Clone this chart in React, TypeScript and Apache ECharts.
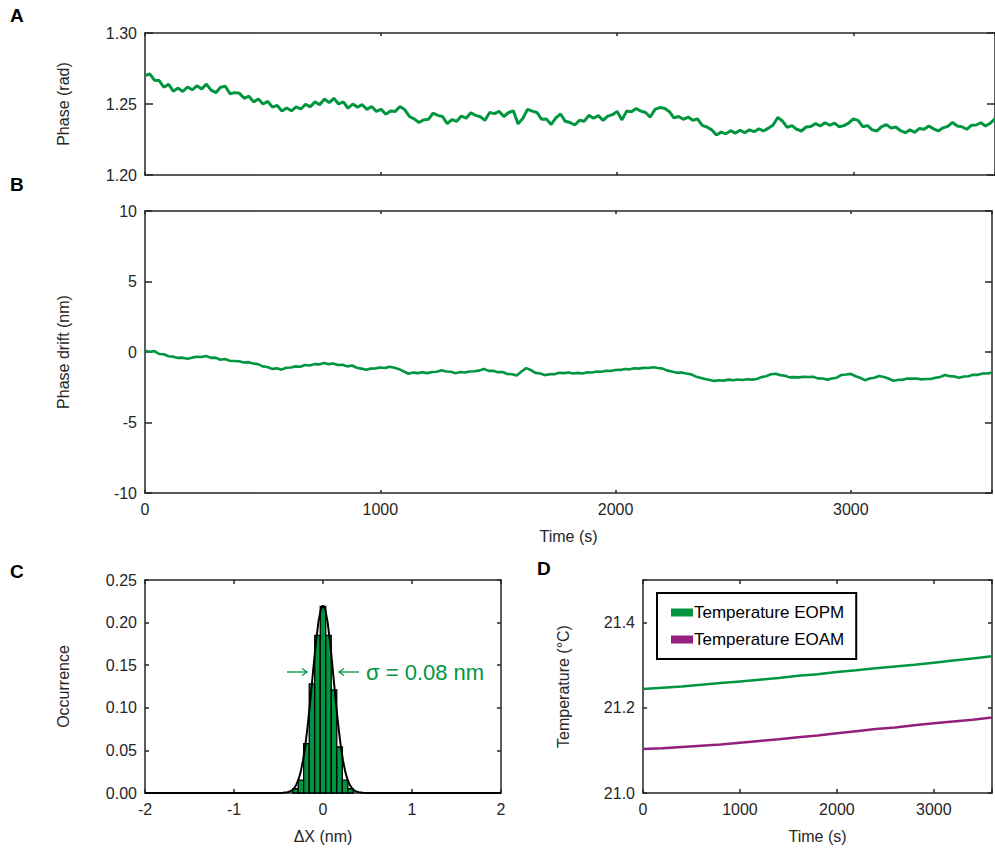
import React, { useEffect, useRef } from "react";
import * as echarts from "echarts";

// ---------------- DATA ----------------
const SAMPLE_STEP_S = 20; // seconds between samples in panels A and B

// Panel A: phase (rad), one value every 20 s from 0 to 3600 s
const phaseRad: number[] = [
  1.2700, 1.2712, 1.2668, 1.2665, 1.2618, 1.2638, 1.2590, 1.2612, 1.2588, 1.2620,
  1.2600, 1.2628, 1.2605, 1.2640, 1.2598, 1.2580, 1.2618, 1.2625, 1.2572, 1.2580,
  1.2575, 1.2540, 1.2555, 1.2515, 1.2535, 1.2500, 1.2518, 1.2478, 1.2490, 1.2450,
  1.2472, 1.2452, 1.2480, 1.2465, 1.2498, 1.2480, 1.2515, 1.2495, 1.2535, 1.2510,
  1.2540, 1.2500, 1.2515, 1.2470, 1.2500, 1.2478, 1.2495, 1.2462, 1.2482, 1.2448,
  1.2462, 1.2428, 1.2450, 1.2448, 1.2482, 1.2460, 1.2412, 1.2395, 1.2370, 1.2388,
  1.2392, 1.2435, 1.2420, 1.2412, 1.2362, 1.2390, 1.2378, 1.2415, 1.2400, 1.2438,
  1.2420, 1.2410, 1.2385, 1.2440, 1.2432, 1.2448, 1.2412, 1.2440, 1.2452, 1.2360,
  1.2398, 1.2462, 1.2450, 1.2440, 1.2392, 1.2395, 1.2355, 1.2402, 1.2430, 1.2378,
  1.2370, 1.2352, 1.2385, 1.2378, 1.2420, 1.2400, 1.2418, 1.2385, 1.2415, 1.2425,
  1.2448, 1.2388, 1.2450, 1.2445, 1.2468, 1.2450, 1.2440, 1.2408, 1.2462, 1.2475,
  1.2470, 1.2448, 1.2402, 1.2412, 1.2392, 1.2408, 1.2385, 1.2395, 1.2350, 1.2338,
  1.2318, 1.2282, 1.2302, 1.2290, 1.2312, 1.2295, 1.2315, 1.2298, 1.2318, 1.2305,
  1.2325, 1.2310, 1.2330, 1.2352, 1.2405, 1.2380, 1.2335, 1.2348, 1.2322, 1.2310,
  1.2338, 1.2342, 1.2362, 1.2345, 1.2368, 1.2350, 1.2365, 1.2340, 1.2348, 1.2365,
  1.2395, 1.2385, 1.2340, 1.2348, 1.2318, 1.2310, 1.2340, 1.2355, 1.2330, 1.2338,
  1.2312, 1.2298, 1.2318, 1.2300, 1.2328, 1.2322, 1.2345, 1.2325, 1.2310, 1.2332,
  1.2342, 1.2370, 1.2345, 1.2340, 1.2322, 1.2350, 1.2352, 1.2368, 1.2345, 1.2365,
  1.2395,
];

// Panel B: phase drift (nm), one value every 20 s from 0 to 3600 s
const phaseDriftNm: number[] = [
  0.08, 0.02, 0.06, -0.14, -0.16, -0.30, -0.33, -0.42, -0.40, -0.48,
  -0.40, -0.34, -0.36, -0.28, -0.42, -0.40, -0.55, -0.50, -0.62, -0.64,
  -0.66, -0.74, -0.72, -0.82, -0.86, -1.02, -1.06, -1.20, -1.16, -1.25,
  -1.12, -1.10, -1.02, -1.05, -0.92, -0.96, -0.86, -0.88, -0.78, -0.86,
  -0.82, -0.92, -0.90, -1.02, -0.96, -1.12, -1.18, -1.26, -1.18, -1.16,
  -1.10, -1.14, -1.05, -1.12, -1.22, -1.38, -1.54, -1.46, -1.50, -1.44,
  -1.50, -1.42, -1.40, -1.30, -1.38, -1.40, -1.50, -1.42, -1.45, -1.38,
  -1.36, -1.32, -1.20, -1.34, -1.33, -1.43, -1.42, -1.56, -1.58, -1.66,
  -1.38, -1.14, -1.28, -1.48, -1.52, -1.64, -1.58, -1.57, -1.48, -1.50,
  -1.46, -1.52, -1.48, -1.53, -1.44, -1.45, -1.38, -1.40, -1.33, -1.35,
  -1.28, -1.27, -1.20, -1.23, -1.15, -1.18, -1.12, -1.14, -1.08, -1.14,
  -1.18, -1.32, -1.38, -1.47, -1.45, -1.52, -1.58, -1.73, -1.83, -1.92,
  -1.98, -2.05, -2.00, -2.03, -1.96, -2.00, -1.95, -1.99, -1.93, -1.96,
  -1.92, -1.78, -1.72, -1.58, -1.55, -1.64, -1.68, -1.80, -1.78, -1.80,
  -1.75, -1.77, -1.76, -1.87, -1.88, -1.96, -1.88, -1.82, -1.63, -1.60,
  -1.55, -1.72, -1.83, -2.00, -1.88, -1.82, -1.70, -1.77, -1.88, -2.04,
  -1.98, -1.97, -1.88, -1.89, -1.88, -1.94, -1.92, -1.92, -1.83, -1.77,
  -1.63, -1.72, -1.73, -1.82, -1.74, -1.72, -1.61, -1.62, -1.53, -1.52,
  -1.45,
];

// Panel C: histogram of ΔX (nm)
const HIST_BIN_WIDTH = 0.062;
const histCenters: number[] = [-0.31, -0.248, -0.186, -0.124, -0.062, 0, 0.062, 0.124, 0.186, 0.248, 0.31];
const histOccurrence: number[] = [0.005, 0.015, 0.058, 0.128, 0.185, 0.219, 0.185, 0.121, 0.054, 0.015, 0.005];

// Panel C: Gaussian fit curve
const fitX: number[] = [
  -2, -0.5, -0.45, -0.4, -0.375, -0.35, -0.325, -0.3, -0.275, -0.25, -0.225, -0.2, -0.175, -0.15,
  -0.125, -0.1, -0.075, -0.05, -0.025, 0, 0.025, 0.05, 0.075, 0.1, 0.125, 0.15, 0.175, 0.2,
  0.225, 0.25, 0.275, 0.3, 0.325, 0.35, 0.375, 0.4, 0.45, 0.5, 2,
];
const fitY: number[] = [
  0, 0, 0.0002, 0.0008, 0.0017, 0.0031, 0.0056, 0.0097, 0.0159, 0.0251, 0.0379, 0.0549, 0.076, 0.1007,
  0.1279, 0.1555, 0.181, 0.2017, 0.2153, 0.22, 0.2153, 0.2017, 0.181, 0.1555, 0.1279, 0.1007, 0.076, 0.0549,
  0.0379, 0.0251, 0.0159, 0.0097, 0.0056, 0.0031, 0.0017, 0.0008, 0.0002, 0, 0,
];

// Panel D: temperatures (°C)
const tempTime: number[] = [0, 200, 400, 600, 800, 1000, 1200, 1400, 1600, 1800, 2000, 2200, 2400, 2600, 2800, 3000, 3200, 3400, 3600];
const tempEOPM: number[] = [21.244, 21.247, 21.25, 21.254, 21.258, 21.262, 21.266, 21.27, 21.275, 21.279, 21.284, 21.288, 21.293, 21.297, 21.301, 21.306, 21.311, 21.316, 21.321];
const tempEOAM: number[] = [21.103, 21.105, 21.108, 21.111, 21.114, 21.118, 21.122, 21.126, 21.131, 21.135, 21.14, 21.145, 21.15, 21.154, 21.159, 21.164, 21.168, 21.172, 21.177];

// ---------------- STYLE ----------------
const GREEN = "#00963F";
const PURPLE = "#93207F";
const INK = "#262626";
const FONT = "Liberation Sans, Arial, Helvetica, sans-serif";

function frameX(gridIndex: number, min: number, max: number, interval: number, showLabels: boolean, tickLen: number, name?: string, extra: any = {}) {
  const base = {
    type: "value",
    gridIndex,
    min,
    max,
    interval,
    splitLine: { show: false },
    axisLine: { show: true, onZero: false, lineStyle: { color: INK, width: 1.5 } },
    axisTick: { show: true, inside: true, length: tickLen, lineStyle: { color: INK, width: 1.5 } },
  };
  return [
    {
      ...base,
      position: "bottom",
      name: name || "",
      nameLocation: "middle",
      nameGap: 35,
      nameTextStyle: { fontSize: 16, color: INK, fontFamily: FONT },
      axisLabel: {
        show: showLabels,
        margin: 8,
        fontSize: 16,
        color: INK,
        fontFamily: FONT,
        ...extra,
      },
    },
    { ...base, position: "top", axisLabel: { show: false } },
  ];
}

function frameY(gridIndex: number, min: number, max: number, interval: number, tickLen: number, name: string, formatter: (v: number) => string, nameGap: number) {
  const base = {
    type: "value",
    gridIndex,
    min,
    max,
    interval,
    splitLine: { show: false },
    axisLine: { show: true, onZero: false, lineStyle: { color: INK, width: 1.5 } },
    axisTick: { show: true, inside: true, length: tickLen, lineStyle: { color: INK, width: 1.5 } },
  };
  return [
    {
      ...base,
      position: "left",
      name,
      nameLocation: "middle",
      nameGap,
      nameTextStyle: { fontSize: 16, color: INK, fontFamily: FONT },
      axisLabel: { show: true, margin: 8, fontSize: 16, color: INK, fontFamily: FONT, formatter, showMaxLabel: true },
    },
    { ...base, position: "right", axisLabel: { show: false } },
  ];
}

export default function App() {
  const ref = useRef<HTMLDivElement>(null);

  useEffect(() => {
    if (!ref.current) return;
    const chart = echarts.init(ref.current, undefined, { renderer: "svg" });

    const seriesA = phaseRad.map((v, i) => [i * SAMPLE_STEP_S, v]);
    const seriesB = phaseDriftNm.map((v, i) => [i * SAMPLE_STEP_S, v]);
    const hist = histCenters.map((c, i) => [c, histOccurrence[i]]);
    const fit = fitX.map((x, i) => [x, fitY[i]]);
    const dG = tempTime.map((t, i) => [t, tempEOPM[i]]);
    const dP = tempTime.map((t, i) => [t, tempEOAM[i]]);

    const hideBeyond3000 = (v: number) => (v > 3000 ? "" : String(v));

    const yD = frameY(3, 21.0, 21.5, 0.2, 4, "Temperature (°C)", (v: number) => (v > 21.45 ? "" : v.toFixed(1)), 72);

    const arrowStyle = { stroke: GREEN, lineWidth: 1.3, fill: "none" };

    const option: any = {
      animation: false,
      textStyle: { fontFamily: FONT },
      grid: [
        { left: 145, top: 33, width: 852, height: 142 },
        { left: 145, top: 211, width: 852, height: 282 },
        { left: 145, top: 580, width: 356, height: 213 },
        { left: 643, top: 580, width: 355, height: 213 },
      ],
      xAxis: [
        ...frameX(0, 0, 3600, 1000, false, 3),
        ...frameX(1, 0, 3600, 1000, true, 3, "Time (s)", { formatter: hideBeyond3000 }),
        ...frameX(2, -2, 2, 1, true, 4, "ΔX (nm)"),
        ...frameX(3, 0, 3600, 1000, true, 4, "Time (s)", { formatter: hideBeyond3000 }),
      ],
      yAxis: [
        ...frameY(0, 1.2, 1.3, 0.05, 8, "Phase (rad)", (v: number) => v.toFixed(2), 74),
        ...frameY(1, -10, 10, 5, 7, "Phase drift (nm)", (v: number) => String(v), 74),
        ...frameY(2, 0, 0.25, 0.05, 4, "Occurrence", (v: number) => v.toFixed(2), 74),
        ...yD,
      ],
      legend: {
        data: ["Temperature EOPM", "Temperature EOAM"],
        orient: "vertical",
        left: 657,
        top: 593,
        icon: "rect",
        itemWidth: 22,
        itemHeight: 8,
        itemGap: 10,
        padding: [11, 12, 11, 14],
        borderColor: "#000",
        borderWidth: 2,
        backgroundColor: "#fff",
        selectedMode: false,
        textStyle: { fontSize: 17, color: "#000", fontFamily: FONT, padding: [0, 0, 0, -4] },
      },
      series: [
        {
          type: "line",
          xAxisIndex: 0,
          yAxisIndex: 0,
          data: seriesA,
          showSymbol: false,
          lineStyle: { color: GREEN, width: 3 },
          itemStyle: { color: GREEN },
          clip: true,
        },
        {
          type: "line",
          xAxisIndex: 2,
          yAxisIndex: 2,
          data: seriesB,
          showSymbol: false,
          lineStyle: { color: GREEN, width: 2.6 },
          itemStyle: { color: GREEN },
          clip: true,
        },
        {
          type: "custom",
          xAxisIndex: 4,
          yAxisIndex: 4,
          data: hist,
          renderItem: (params: any, api: any) => {
            const c = api.value(0);
            const h = api.value(1);
            const p0 = api.coord([c - HIST_BIN_WIDTH / 2, h]);
            const p1 = api.coord([c + HIST_BIN_WIDTH / 2, 0]);
            return {
              type: "rect",
              shape: { x: p0[0], y: p0[1], width: p1[0] - p0[0], height: p1[1] - p0[1] },
              style: { fill: GREEN, stroke: "#000", lineWidth: 1.3 },
            };
          },
          z: 2,
        },
        {
          type: "line",
          xAxisIndex: 4,
          yAxisIndex: 4,
          data: fit,
          showSymbol: false,
          lineStyle: { color: "#000", width: 2 },
          itemStyle: { color: "#000" },
          z: 3,
        },
        {
          name: "Temperature EOPM",
          type: "line",
          xAxisIndex: 6,
          yAxisIndex: 6,
          data: dG,
          showSymbol: false,
          lineStyle: { color: GREEN, width: 2.5 },
          itemStyle: { color: GREEN },
        },
        {
          name: "Temperature EOAM",
          type: "line",
          xAxisIndex: 6,
          yAxisIndex: 6,
          data: dP,
          showSymbol: false,
          lineStyle: { color: PURPLE, width: 2.5 },
          itemStyle: { color: PURPLE },
        },
      ],
      graphic: [
        { type: "text", left: 10, top: 6, style: { text: "A", font: `bold 19px ${FONT}`, fill: "#000" } },
        { type: "text", left: 10, top: 175, style: { text: "B", font: `bold 19px ${FONT}`, fill: "#000" } },
        { type: "text", left: 10, top: 562, style: { text: "C", font: `bold 19px ${FONT}`, fill: "#000" } },
        { type: "text", left: 537, top: 559, style: { text: "D", font: `bold 19px ${FONT}`, fill: "#000" } },
        { type: "line", shape: { x1: 287, y1: 672, x2: 307, y2: 672 }, style: arrowStyle },
        { type: "polyline", shape: { points: [[302, 668.5], [307, 672], [302, 675.5]] }, style: arrowStyle },
        { type: "line", shape: { x1: 339, y1: 672, x2: 359, y2: 672 }, style: arrowStyle },
        { type: "polyline", shape: { points: [[344, 668.5], [339, 672], [344, 675.5]] }, style: arrowStyle },
        { type: "text", x: 366, y: 672, style: { text: "σ = 0.08 nm", font: `22px ${FONT}`, fill: GREEN, verticalAlign: "middle", align: "left" } },
      ],
    };

    chart.setOption(option);
    return () => chart.dispose();
  }, []);

  return (
    <div style={{ position: "absolute", left: 0, top: 0, width: 995, height: 851, overflow: "hidden", background: "#fff" }}>
      <div ref={ref} style={{ width: 995, height: 851 }} />
    </div>
  );
}
